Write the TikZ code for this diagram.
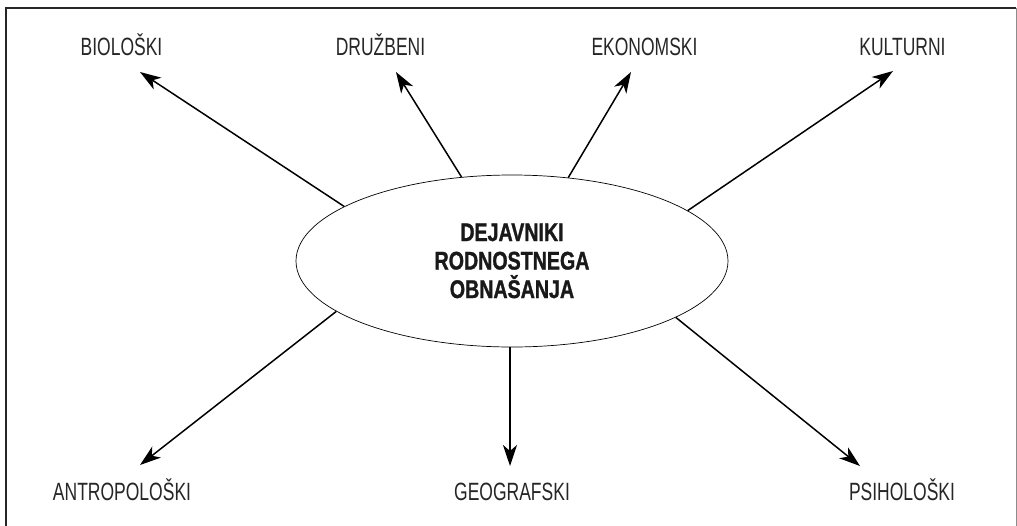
\documentclass[tikz,border=0pt]{standalone}
\usepackage{fontspec}
\setmainfont{Liberation Sans}
\newfontfamily\labfont[FakeStretch=0.7]{Liberation Sans}
\newfontfamily\boldfont[FakeStretch=0.77,FakeBold=1.2]{Liberation Sans Bold}
\usetikzlibrary{arrows.meta,shapes.geometric}
\tikzset{
  lab/.style={font=\labfont\fontsize{25}{28}\selectfont, text=black!85, inner sep=0pt, anchor=base},
  arr/.style={line width=1.5pt, -{Stealth[length=21pt,width=14pt,inset=6pt]}},
}
\begin{document}
\begin{tikzpicture}[x=1pt,y=-1pt]
\useasboundingbox (0,0) rectangle (1017,525);
% frame
\draw[line width=2pt, black!85] (6,526) -- (6,8) -- (1016,8);
\draw[line width=1pt, black!45] (1016,8) -- (1016,526);
% central ellipse
\node[draw, ellipse, line width=0.7pt, minimum width=432pt, minimum height=172pt, inner sep=0pt] (e) at (512,261) {};
\node[font=\boldfont\fontsize{25.5}{28.5}\selectfont, text=black!90, align=center, inner sep=0pt, anchor=base] (t) at (512,298) {DEJAVNIKI\\RODNOSTNEGA\\OBNAŠANJA};
% labels
\node[lab] (bio) at (121.5,55) {BIOLOŠKI};
\node[lab] (dru) at (380.5,55) {DRUŽBENI};
\node[lab] (eko) at (644.5,55) {EKONOMSKI};
\node[lab] (kul) at (902.5,55) {KULTURNI};
\node[lab] (ant) at (122,500) {ANTROPOLOŠKI};
\node[lab] (geo) at (512,500) {GEOGRAFSKI};
\node[lab] (psi) at (902,500) {PSIHOLOŠKI};
% arrow tips
\coordinate (tbio) at (140,72);
\coordinate (tdru) at (396,72);
\coordinate (teko) at (631,72);
\coordinate (tkul) at (893,71);
\coordinate (tant) at (140,465);
\coordinate (tgeo) at (510,466);
\coordinate (tpsi) at (860,466);
% arrows
\draw[arr] (e.162.4) -- (tbio);
\draw[arr] (e.121.9) -- (tdru);
\draw[arr] (e.56.2) -- (teko);
\draw[arr] (e.16.2) -- (tkul);
\draw[arr] (e.196.1) -- (tant);
\draw[arr] (e.south -| tgeo) -- (tgeo);
\draw[arr] (e.-19.8) -- (tpsi);
\end{tikzpicture}
\end{document}
